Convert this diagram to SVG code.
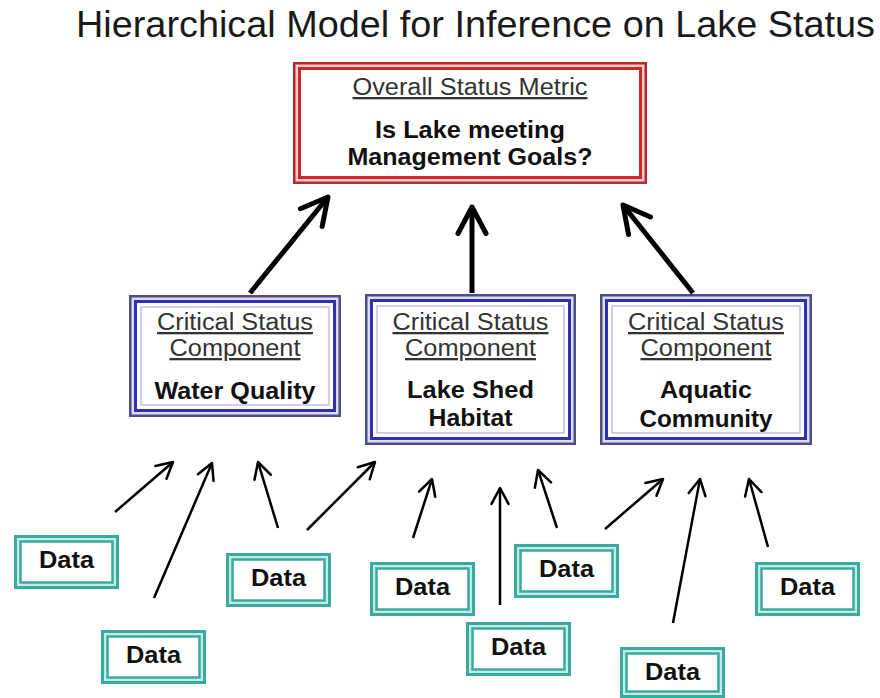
<svg xmlns="http://www.w3.org/2000/svg" width="880" height="698" viewBox="0 0 880 698">
<defs>
<style>
.title{font-family:'Liberation Sans',Arial,sans-serif;font-size:36px;fill:#1a1a1a}
.lbl{font-family:'Liberation Sans',Arial,sans-serif;font-size:23px;fill:#333;text-decoration:underline}
.bold{font-family:'Liberation Sans',Arial,sans-serif;font-size:23px;font-weight:bold;fill:#111}
.r1{fill:#f4caca;stroke:#b52a2a;stroke-width:2.5}
.r2{fill:#fff;stroke:#d02828;stroke-width:3}
.b1{fill:#dcdcf2;stroke:#4d4d8c;stroke-width:2.5}
.b2{fill:#fff;stroke:#3030b0;stroke-width:3}
.b3{fill:none;stroke:#a0a0dd;stroke-width:1}
.t1{fill:#c4ebe5;stroke:#3aaa9c;stroke-width:3}
.t2{fill:#fff;stroke:#3aaa9c;stroke-width:2.5}
.big{stroke:#000;stroke-width:5;fill:none;marker-end:url(#hb)}
.small{stroke:#000;stroke-width:2.5;fill:none;marker-end:url(#hs)}
</style>
<marker id="hb" markerUnits="userSpaceOnUse" viewBox="-32 -20 36 40" refX="0" refY="0" markerWidth="36" markerHeight="40" orient="auto" overflow="visible">
<path d="M-26.5,-14 L0,0 L-26.5,14" fill="none" stroke="#000" stroke-width="5" stroke-linecap="round" stroke-linejoin="round"/>
</marker>
<marker id="hs" markerUnits="userSpaceOnUse" viewBox="-20 -12 24 24" refX="0" refY="0" markerWidth="24" markerHeight="24" orient="auto" overflow="visible">
<path d="M-15.9,-8.5 L0,0 L-15.9,8.5" fill="none" stroke="#000" stroke-width="2.5" stroke-linecap="round" stroke-linejoin="round"/>
</marker>
</defs>
<rect width="880" height="698" fill="#fff"/>
<text class="title" x="76" y="37" textLength="799" lengthAdjust="spacingAndGlyphs">Hierarchical Model for Inference on Lake Status</text>

<g id="overall">
<rect class="r1" x="294.25" y="63.25" width="351.5" height="119.5"/>
<rect class="r2" x="299.5" y="68.5" width="341" height="109"/>
<text class="lbl" x="470" y="95" text-anchor="middle" textLength="235" lengthAdjust="spacingAndGlyphs">Overall Status Metric</text>
<text class="bold" x="470" y="138" text-anchor="middle" textLength="190" lengthAdjust="spacingAndGlyphs">Is Lake meeting</text>
<text class="bold" x="470" y="165" text-anchor="middle" textLength="245" lengthAdjust="spacingAndGlyphs">Management Goals?</text>
</g>

<g id="water-quality">
<rect class="b1" x="130.25" y="296.25" width="209.5" height="119.5"/>
<rect class="b2" x="135.5" y="301.5" width="199" height="109"/>
<rect class="b3" x="141" y="307" width="188" height="98"/>
<text class="lbl" x="235" y="330" text-anchor="middle" textLength="156" lengthAdjust="spacingAndGlyphs">Critical Status</text>
<text class="lbl" x="235" y="356" text-anchor="middle" textLength="131" lengthAdjust="spacingAndGlyphs">Component</text>
<text class="bold" x="235" y="399" text-anchor="middle" textLength="161" lengthAdjust="spacingAndGlyphs">Water Quality</text>
</g>

<g id="lake-shed-habitat">
<rect class="b1" x="366.25" y="295.25" width="208.5" height="148.5"/>
<rect class="b2" x="371.5" y="300.5" width="198" height="138"/>
<rect class="b3" x="377" y="306" width="187" height="127"/>
<text class="lbl" x="470.5" y="330" text-anchor="middle" textLength="156" lengthAdjust="spacingAndGlyphs">Critical Status</text>
<text class="lbl" x="470.5" y="356" text-anchor="middle" textLength="131" lengthAdjust="spacingAndGlyphs">Component</text>
<text class="bold" x="470.5" y="398" text-anchor="middle" textLength="127" lengthAdjust="spacingAndGlyphs">Lake Shed</text>
<text class="bold" x="470.5" y="426" text-anchor="middle" textLength="84" lengthAdjust="spacingAndGlyphs">Habitat</text>
</g>

<g id="aquatic-community">
<rect class="b1" x="601.25" y="295.25" width="209.5" height="148.5"/>
<rect class="b2" x="606.5" y="300.5" width="199" height="138"/>
<rect class="b3" x="612" y="306" width="188" height="127"/>
<text class="lbl" x="706" y="330" text-anchor="middle" textLength="156" lengthAdjust="spacingAndGlyphs">Critical Status</text>
<text class="lbl" x="706" y="356" text-anchor="middle" textLength="131" lengthAdjust="spacingAndGlyphs">Component</text>
<text class="bold" x="706" y="398" text-anchor="middle" textLength="92" lengthAdjust="spacingAndGlyphs">Aquatic</text>
<text class="bold" x="706" y="427" text-anchor="middle" textLength="133" lengthAdjust="spacingAndGlyphs">Community</text>
</g>

<g id="data-1" transform="translate(14,535)">
<rect class="t1" x="1.5" y="1.5" width="102" height="51"/><rect class="t2" x="6.5" y="6.5" width="92" height="41"/>
<text class="bold" x="52.5" y="33" text-anchor="middle" textLength="55" lengthAdjust="spacingAndGlyphs">Data</text>
</g>
<g id="data-2" transform="translate(101,630)">
<rect class="t1" x="1.5" y="1.5" width="102" height="51"/><rect class="t2" x="6.5" y="6.5" width="92" height="41"/>
<text class="bold" x="52.5" y="33" text-anchor="middle" textLength="55" lengthAdjust="spacingAndGlyphs">Data</text>
</g>
<g id="data-3" transform="translate(226,553)">
<rect class="t1" x="1.5" y="1.5" width="102" height="51"/><rect class="t2" x="6.5" y="6.5" width="92" height="41"/>
<text class="bold" x="52.5" y="33" text-anchor="middle" textLength="55" lengthAdjust="spacingAndGlyphs">Data</text>
</g>
<g id="data-4" transform="translate(370,562)">
<rect class="t1" x="1.5" y="1.5" width="102" height="51"/><rect class="t2" x="6.5" y="6.5" width="92" height="41"/>
<text class="bold" x="52.5" y="33" text-anchor="middle" textLength="55" lengthAdjust="spacingAndGlyphs">Data</text>
</g>
<g id="data-5" transform="translate(466,622)">
<rect class="t1" x="1.5" y="1.5" width="102" height="51"/><rect class="t2" x="6.5" y="6.5" width="92" height="41"/>
<text class="bold" x="52.5" y="33" text-anchor="middle" textLength="55" lengthAdjust="spacingAndGlyphs">Data</text>
</g>
<g id="data-6" transform="translate(514,544)">
<rect class="t1" x="1.5" y="1.5" width="102" height="51"/><rect class="t2" x="6.5" y="6.5" width="92" height="41"/>
<text class="bold" x="52.5" y="33" text-anchor="middle" textLength="55" lengthAdjust="spacingAndGlyphs">Data</text>
</g>
<g id="data-7" transform="translate(620,647)">
<rect class="t1" x="1.5" y="1.5" width="102" height="48"/><rect class="t2" x="6.5" y="6.5" width="92" height="38"/>
<text class="bold" x="52.5" y="33" text-anchor="middle" textLength="55" lengthAdjust="spacingAndGlyphs">Data</text>
</g>
<g id="data-8" transform="translate(755,562)">
<rect class="t1" x="1.5" y="1.5" width="102" height="51"/><rect class="t2" x="6.5" y="6.5" width="92" height="41"/>
<text class="bold" x="52.5" y="33" text-anchor="middle" textLength="55" lengthAdjust="spacingAndGlyphs">Data</text>
</g>

<g id="connectors">
<line class="big" x1="250" y1="293" x2="328" y2="197"/>
<line class="big" x1="472" y1="293" x2="472" y2="207"/>
<line class="big" x1="693" y1="293" x2="623" y2="205"/>
<line class="small" x1="115" y1="512" x2="173" y2="462"/>
<line class="small" x1="154" y1="598" x2="212" y2="463"/>
<line class="small" x1="278" y1="528" x2="258" y2="462"/>
<line class="small" x1="307" y1="530" x2="375" y2="462"/>
<line class="small" x1="413" y1="538" x2="432" y2="479"/>
<line class="small" x1="500" y1="605" x2="500" y2="488"/>
<line class="small" x1="557" y1="528" x2="538" y2="470"/>
<line class="small" x1="605" y1="529" x2="663" y2="479"/>
<line class="small" x1="673" y1="623" x2="700" y2="479"/>
<line class="small" x1="768" y1="547" x2="749" y2="479"/>
</g>
</svg>
